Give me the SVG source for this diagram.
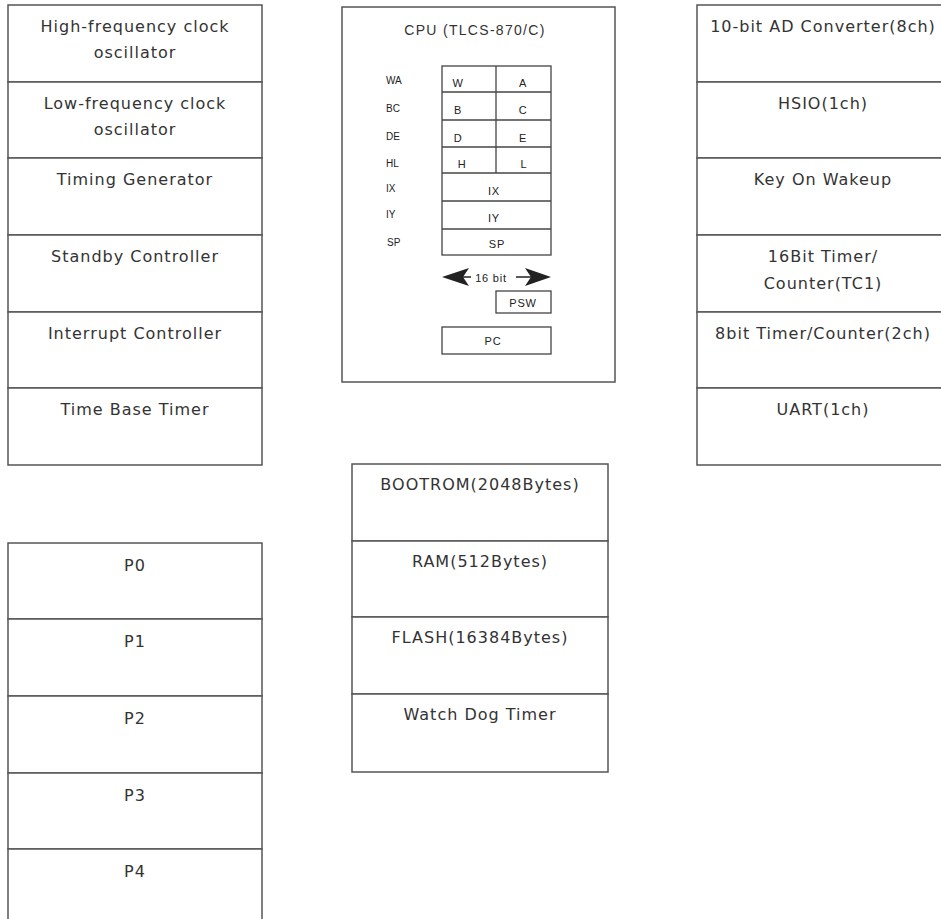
<svg xmlns="http://www.w3.org/2000/svg" width="941" height="919" viewBox="0 0 941 919">
<style>
.box{fill:#fff;stroke:#555;stroke-width:1.5}
.lbl{font-family:"DejaVu Sans",sans-serif;font-size:16px;letter-spacing:1px;fill:#333;text-anchor:middle}
.reg{fill:none;stroke:#444;stroke-width:1.3}
.rt{font-family:"Liberation Sans",Arial,sans-serif;font-size:10px;fill:#222}
.rc{font-family:"Liberation Sans",Arial,sans-serif;font-size:11px;letter-spacing:0.8px;fill:#222;text-anchor:middle}
.title{font-family:"Liberation Sans",Arial,sans-serif;font-size:14px;letter-spacing:1.3px;fill:#333;text-anchor:middle}
.arr{fill:#222;stroke:none}
</style>
<rect width="941" height="919" fill="#fff"/>

<!-- Left column -->
<g id="hf-osc"><rect class="box" x="8" y="5" width="254" height="77"/><text class="lbl" x="135" y="32">High-frequency clock</text><text class="lbl" x="135" y="58">oscillator</text></g>
<g id="lf-osc"><rect class="box" x="8" y="82" width="254" height="76"/><text class="lbl" x="135" y="109">Low-frequency clock</text><text class="lbl" x="135" y="135">oscillator</text></g>
<g id="timing-gen"><rect class="box" x="8" y="158" width="254" height="77"/><text class="lbl" x="135" y="185">Timing Generator</text></g>
<g id="standby"><rect class="box" x="8" y="235" width="254" height="77"/><text class="lbl" x="135" y="262">Standby Controller</text></g>
<g id="interrupt"><rect class="box" x="8" y="312" width="254" height="76"/><text class="lbl" x="135" y="339">Interrupt Controller</text></g>
<g id="tbt"><rect class="box" x="8" y="388" width="254" height="77"/><text class="lbl" x="135" y="415">Time Base Timer</text></g>

<!-- Right column -->
<g id="adc"><rect class="box" x="697" y="5" width="260" height="77"/><text class="lbl" x="823" y="32">10-bit AD Converter(8ch)</text></g>
<g id="hsio"><rect class="box" x="697" y="82" width="260" height="76"/><text class="lbl" x="823" y="109">HSIO(1ch)</text></g>
<g id="kwu"><rect class="box" x="697" y="158" width="260" height="77"/><text class="lbl" x="823" y="185">Key On Wakeup</text></g>
<g id="tc1"><rect class="box" x="697" y="235" width="260" height="77"/><text class="lbl" x="823" y="262">16Bit Timer/</text><text class="lbl" x="823" y="289">Counter(TC1)</text></g>
<g id="tc8"><rect class="box" x="697" y="312" width="260" height="76"/><text class="lbl" x="823" y="339">8bit Timer/Counter(2ch)</text></g>
<g id="uart"><rect class="box" x="697" y="388" width="260" height="77"/><text class="lbl" x="823" y="415">UART(1ch)</text></g>

<!-- CPU -->
<g id="cpu">
<rect class="box" x="342" y="7" width="273" height="375"/>
<text class="title" x="475" y="35">CPU (TLCS-870/C)</text>
<rect class="reg" x="442" y="66" width="109" height="189"/>
<line class="reg" x1="442" y1="92" x2="551" y2="92"/>
<line class="reg" x1="442" y1="120" x2="551" y2="120"/>
<line class="reg" x1="442" y1="147" x2="551" y2="147"/>
<line class="reg" x1="442" y1="173" x2="551" y2="173"/>
<line class="reg" x1="442" y1="201" x2="551" y2="201"/>
<line class="reg" x1="442" y1="229" x2="551" y2="229"/>
<line class="reg" x1="496" y1="66" x2="496" y2="173"/>
<text class="rt" x="386" y="84">WA</text>
<text class="rt" x="386" y="112">BC</text>
<text class="rt" x="386" y="140">DE</text>
<text class="rt" x="386" y="167">HL</text>
<text class="rt" x="386" y="192">IX</text>
<text class="rt" x="386" y="218">IY</text>
<text class="rt" x="387" y="246">SP</text>
<text class="rc" x="458" y="87">W</text><text class="rc" x="523" y="87">A</text>
<text class="rc" x="458" y="114">B</text><text class="rc" x="523" y="114">C</text>
<text class="rc" x="458" y="142">D</text><text class="rc" x="523" y="142">E</text>
<text class="rc" x="462" y="168">H</text><text class="rc" x="524" y="168">L</text>
<text class="rc" x="494" y="195">IX</text>
<text class="rc" x="494" y="222">IY</text>
<text class="rc" x="497" y="248">SP</text>
<path class="arr" d="M442,277 L469,268 L463,277 L469,286 Z"/>
<line x1="462" y1="277" x2="471" y2="277" stroke="#222" stroke-width="1.5"/>
<text class="rc" x="491" y="282">16 bit</text>
<line x1="516" y1="277" x2="536" y2="277" stroke="#222" stroke-width="1.5"/>
<path class="arr" d="M551,277 L525,268 L531,277 L525,286 Z"/>
<rect class="reg" x="496" y="291" width="55" height="22"/>
<text class="rc" x="523" y="307">PSW</text>
<rect class="reg" x="442" y="327" width="109" height="27"/>
<text class="rc" x="493" y="345">PC</text>
</g>

<!-- Memory column -->
<g id="bootrom"><rect class="box" x="352" y="464" width="256" height="77"/><text class="lbl" x="480" y="490">BOOTROM(2048Bytes)</text></g>
<g id="ram"><rect class="box" x="352" y="541" width="256" height="76"/><text class="lbl" x="480" y="567">RAM(512Bytes)</text></g>
<g id="flash"><rect class="box" x="352" y="617" width="256" height="77"/><text class="lbl" x="480" y="643">FLASH(16384Bytes)</text></g>
<g id="wdt"><rect class="box" x="352" y="694" width="256" height="78"/><text class="lbl" x="480" y="720">Watch Dog Timer</text></g>

<!-- Ports -->
<g id="p0"><rect class="box" x="8" y="543" width="254" height="76"/><text class="lbl" x="135" y="571">P0</text></g>
<g id="p1"><rect class="box" x="8" y="619" width="254" height="77"/><text class="lbl" x="135" y="647">P1</text></g>
<g id="p2"><rect class="box" x="8" y="696" width="254" height="77"/><text class="lbl" x="135" y="724">P2</text></g>
<g id="p3"><rect class="box" x="8" y="773" width="254" height="76"/><text class="lbl" x="135" y="801">P3</text></g>
<g id="p4"><rect class="box" x="8" y="849" width="254" height="80"/><text class="lbl" x="135" y="877">P4</text></g>

<g id="connectors"/>
</svg>
